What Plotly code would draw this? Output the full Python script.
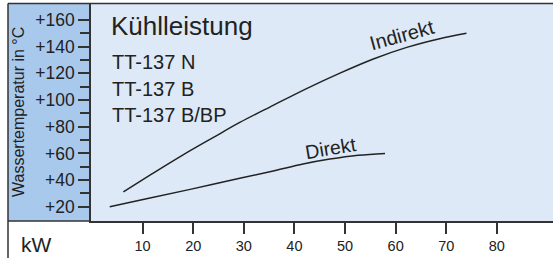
import plotly.graph_objects as go

# Data
indirekt_kw = [6.2, 12, 18, 24, 29.2, 35.8, 42.4, 49, 55.6, 62.2, 68.7, 74.0]
indirekt_temp = [31.2, 45.0, 58.9, 72.0, 83.2, 96.0, 108.6, 120.2, 130.8, 139.5, 146.0, 150.0]

direkt_kw = [3.5, 11, 19.4, 29.2, 36, 41.7, 47, 52.6, 57.9]
direkt_temp = [20, 26.2, 33, 41.3, 47, 52, 55.7, 58.6, 60]

x_ticks = [10, 20, 30, 40, 50, 60, 70, 80]
y_ticks = [20, 40, 60, 80, 100, 120, 140, 160]
y_tick_labels = ["+20", "+40", "+60", "+80", "+100", "+120", "+140", "+160"]
y_minor = [30, 50, 70, 90, 110, 130, 150]

title_lines = ["TT-137 N", "TT-137 B", "TT-137 B/BP"]

FONT = "Liberation Sans, Arial, Helvetica, sans-serif"
INK = "#222222"
AXC = "#333333"
PLOT_BG = "#dde9f7"
PANEL = "#a9c9ec"

fig = go.Figure()
fig.add_trace(go.Scatter(x=indirekt_kw, y=indirekt_temp, mode="lines",
                         line=dict(color=INK, width=1.5, shape="spline", smoothing=1.0),
                         hoverinfo="skip", showlegend=False))
fig.add_trace(go.Scatter(x=direkt_kw, y=direkt_temp, mode="lines",
                         line=dict(color=INK, width=1.5, shape="spline", smoothing=1.0),
                         hoverinfo="skip", showlegend=False))

L, R, T, B = 91, 0, 4, 37
W, H = 553, 258
pw, ph = W - L - R, H - T - B

def px(xp):
    return (xp - L) / pw

def py(yp):
    return (H - B - yp) / ph

fig.update_layout(
    width=W, height=H,
    margin=dict(l=L, r=R, t=T, b=B, pad=0),
    paper_bgcolor="white",
    plot_bgcolor=PLOT_BG,
    font=dict(family=FONT, color=INK),
    showlegend=False,
    xaxis=dict(range=[-0.2, 91.1], tickmode="array", tickvals=x_ticks,
               ticks="outside", ticklen=11, tickwidth=1.5, tickcolor=AXC,
               showline=True, linecolor=AXC, linewidth=1.5,
               showgrid=False, zeroline=False,
               tickfont=dict(size=14.5, color=INK, family=FONT)),
    yaxis=dict(range=[9.3, 172.0], tickmode="array", tickvals=y_ticks,
               ticktext=y_tick_labels,
               ticks="outside", ticklen=11, tickwidth=1.5, tickcolor=AXC,
               minor=dict(tickmode="array", tickvals=y_minor, ticks="outside",
                          ticklen=9, tickwidth=1.5, tickcolor=AXC, showgrid=False),
               showline=True, linecolor=AXC, linewidth=1.5,
               showgrid=False, zeroline=False,
               tickfont=dict(size=17.5, color=INK, family=FONT)),
)

# Blue y-axis panel and frame lines
fig.add_shape(type="rect", xref="paper", yref="paper",
              x0=px(8), x1=0, y0=0, y1=1, fillcolor=PANEL,
              line=dict(width=0), layer="below")
fig.add_shape(type="line", xref="paper", yref="paper",
              x0=px(8), x1=1.0, y0=py(3.5), y1=py(3.5),
              line=dict(color=AXC, width=1.5))
fig.add_shape(type="line", xref="paper", yref="paper",
              x0=px(8), x1=px(8), y0=py(3.5), y1=py(260),
              line=dict(color=AXC, width=1.5))
fig.add_shape(type="line", xref="paper", yref="paper",
              x0=px(8), x1=0, y0=0, y1=0,
              line=dict(color=AXC, width=1.5))

ann = []
ann.append(dict(text="Kühlleistung", x=px(108.5), y=py(25.8), xanchor="left",
                yanchor="middle", font=dict(size=26, color=INK, family=FONT)))
for i, t in enumerate(title_lines):
    ann.append(dict(text=t, x=px(110), y=py(62 + 26.7 * i), xanchor="left",
                    yanchor="middle", font=dict(size=20, color=INK, family=FONT)))
ann.append(dict(text="Wassertemperatur in °C", x=px(19), y=py(112), textangle=-90,
                xanchor="center", yanchor="middle",
                font=dict(size=16, color=INK, family=FONT)))
ann.append(dict(text="kW", x=px(19), y=py(244.8), xanchor="left", yanchor="middle",
                font=dict(size=21, color=INK, family=FONT)))
ann.append(dict(text="Indirekt", x=px(402), y=py(35), textangle=-15.5,
                xanchor="center", yanchor="middle",
                font=dict(size=20, color=INK, family=FONT)))
ann.append(dict(text="Direkt", x=px(330.8), y=py(148), textangle=-9.5,
                xanchor="center", yanchor="middle",
                font=dict(size=19.5, color=INK, family=FONT)))
for a in ann:
    a.update(xref="paper", yref="paper", showarrow=False)
fig.update_layout(annotations=ann)

fig.write_html("out.html", config={"displayModeBar": False},
               post_script="document.body.style.margin='0';document.body.style.padding='0';document.documentElement.style.overflow='hidden';")
